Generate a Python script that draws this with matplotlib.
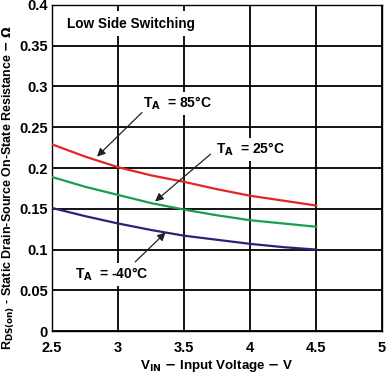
import numpy as np
import matplotlib
matplotlib.use("Agg")
import matplotlib.pyplot as plt

plt.rcParams["font.family"] = ["Liberation Sans", "DejaVu Sans"]
plt.rcParams["font.weight"] = "bold"

# data
v_in = [2.5, 2.75, 3.0, 3.25, 3.5, 3.75, 4.0, 4.25, 4.5]
r_85 = [0.229, 0.214, 0.201, 0.191, 0.183, 0.174, 0.166, 0.160, 0.154]
r_25 = [0.189, 0.177, 0.167, 0.157, 0.149, 0.142, 0.136, 0.132, 0.128]
r_m40 = [0.151, 0.141, 0.132, 0.124, 0.117, 0.112, 0.107, 0.103, 0.100]

x_ticks = [2.5, 3, 3.5, 4, 4.5, 5]
x_tick_labels = ["2.5", "3", "3.5", "4", "4.5", "5"]
y_ticks = [0, 0.05, 0.1, 0.15, 0.2, 0.25, 0.3, 0.35, 0.4]
y_tick_labels = ["0", "0.05", "0.1", "0.15", "0.2", "0.25", "0.3", "0.35", "0.4"]

fig = plt.figure(figsize=(3.86, 3.78), dpi=100)
ax = fig.add_axes([0.135, 0.124, 0.855, 0.863])

ax.plot(v_in, r_85, color="#e5242a", lw=1.6, zorder=3)
ax.plot(v_in, r_25, color="#16a049", lw=1.6, zorder=3)
ax.plot(v_in, r_m40, color="#2a2477", lw=1.6, zorder=3)

ax.set_xlim(2.5, 5)
ax.set_ylim(0, 0.4)
ax.set_xticks(x_ticks)
ax.set_xticklabels(x_tick_labels)
ax.set_yticks(y_ticks)
ax.set_yticklabels(y_tick_labels)
ax.tick_params(length=0, labelsize=10.5)
ax.tick_params(axis="x", pad=7)
ax.tick_params(axis="y", pad=3)
for lab in ax.get_xticklabels() + ax.get_yticklabels():
    lab.set_fontweight("bold")
ax.grid(True, color="black", lw=1.3, zorder=1)
for s in ax.spines.values():
    s.set_linewidth(1.0)

ax.set_xlabel(r"V$_{\mathbf{IN}}$ $-$ Input Voltage $-$ V", fontsize=9.6,
              fontweight="bold", labelpad=2)
ax.set_ylabel(r"R$_{\mathbf{DS(on)}}$ - Static Drain-Source On-State Resistance $-$ $\Omega$",
              fontsize=9.0, fontweight="bold")
ax.yaxis.set_label_coords(-0.106, 0.44)

box = dict(facecolor="white", edgecolor="none", pad=2)
ax.text(2.61, 0.377, "Low Side Switching", fontsize=9.8, fontweight="bold",
        va="center", ha="left", bbox=dict(facecolor="white", edgecolor="none", pad=4), zorder=4)

arrow = dict(arrowstyle="-|>", color="#222222", lw=0.9, mutation_scale=12,
             shrinkA=0, shrinkB=0)
ax.annotate("", xy=(2.84, 0.214), xytext=(3.18, 0.268), arrowprops=arrow, zorder=5)
ax.annotate("", xy=(3.28, 0.159), xytext=(3.70, 0.217), arrowprops=arrow, zorder=5)
ax.annotate("", xy=(3.36, 0.121), xytext=(3.13, 0.085), arrowprops=arrow, zorder=5)

ax.text(3.19, 0.279, r"T$_{\mathbf{A}}$  = 85°C", fontsize=10, fontweight="bold",
        va="center", ha="left", bbox=box, zorder=4)
ax.text(3.74, 0.223, r"T$_{\mathbf{A}}$  = 25°C", fontsize=10, fontweight="bold",
        va="center", ha="left", bbox=box, zorder=4)
ax.text(2.67, 0.070, r"T$_{\mathbf{A}}$  = -40°C", fontsize=10, fontweight="bold",
        va="center", ha="left", bbox=box, zorder=4)

fig.savefig("out.png", dpi=100)
